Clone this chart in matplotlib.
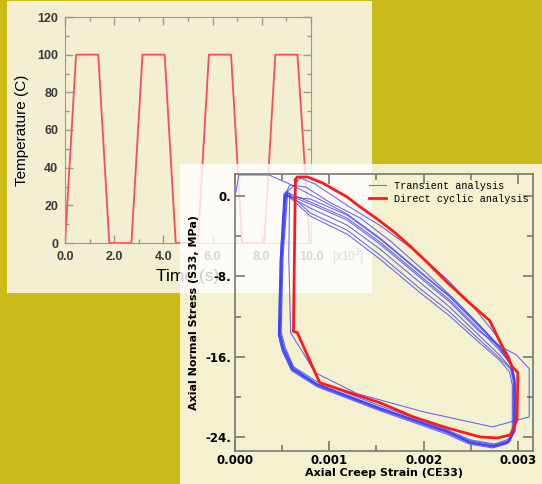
import matplotlib
matplotlib.use("Agg")
import matplotlib.pyplot as plt
from matplotlib.patches import Rectangle

# temperature history (time in x10^3 s)
time_pts = [0.0, 0.45, 1.35, 1.8, 2.7, 3.15, 4.05, 4.5, 5.4, 5.85, 6.75, 7.2, 8.1, 8.55, 9.45, 9.95]
temp_pts = [0, 100, 100, 0, 0, 100, 100, 0, 0, 100, 100, 0, 0, 100, 100, 0]
time_ticks = [0, 2, 4, 6, 8, 10]
time_labels = ["0.0", "2.0", "4.0", "6.0", "8.0", "10.0"]
temp_ticks = [0, 20, 40, 60, 80, 100, 120]

# direct cyclic loop
red_x = [0.00064, 0.00066, 0.00077, 0.00093, 0.00119, 0.00133, 0.00151, 0.00169, 0.00187, 0.00206,
         0.00224, 0.00248, 0.00270, 0.00294, 0.00300, 0.00299, 0.00292, 0.00278, 0.00260, 0.00225,
         0.00189, 0.00154, 0.00119, 0.00090, 0.00085, 0.00066, 0.00062, 0.00064]
red_y = [1.6, 1.9, 1.9, 1.3, -0.1, -1.1, -2.3, -3.6, -5.1, -6.8,
         -8.5, -10.6, -12.4, -17.0, -17.6, -22.3, -23.8, -24.1, -24.0, -23.1,
         -22.0, -20.6, -19.5, -18.6, -17.6, -13.6, -13.5, 1.6]

# transient analysis, one list pair per cycle
c1_x = [0.00001, 0.00004, 0.00036, 0.00058, 0.00085, 0.00119, 0.00154, 0.00196, 0.00227, 0.00259, 0.00280, 0.00292, 0.00297,
        0.00297, 0.00291, 0.00275, 0.00250, 0.00225, 0.00154, 0.00087, 0.00062, 0.00052, 0.00048, 0.00050, 0.00054]
c1_y = [0.4, 2.1, 2.1, 1.2, -0.1, -1.8, -4.2, -7.5, -9.9, -12.9, -14.9, -16.5, -18.2,
        -23.4, -24.4, -24.8, -24.4, -23.4, -21.1, -18.7, -17.1, -15.1, -13.6, -6.0, 0.4]
c2_x = [0.00054, 0.00080, 0.00119, 0.00154, 0.00196, 0.00227, 0.00259, 0.00280, 0.00293, 0.00296, 0.00296,
        0.00290, 0.00274, 0.00249, 0.00225, 0.00154, 0.00087, 0.00060, 0.00050, 0.00046, 0.00048, 0.00052]
c2_y = [0.4, -0.6, -2.2, -4.6, -7.9, -10.3, -13.3, -15.3, -16.8, -18.4, -23.5,
        -24.6, -25.0, -24.6, -23.6, -21.3, -18.9, -17.3, -15.3, -13.8, -6.2, 0.2]
c3_x = [0.00052, 0.00080, 0.00119, 0.00154, 0.00196, 0.00227, 0.00259, 0.00280, 0.00292, 0.00295, 0.00295,
        0.00289, 0.00273, 0.00249, 0.00225, 0.00154, 0.00087, 0.00061, 0.00051, 0.00047, 0.00049, 0.00053]
c3_y = [0.2, -1.2, -2.9, -5.3, -8.6, -11.0, -13.9, -15.8, -17.1, -18.5, -23.2,
        -24.4, -24.9, -24.5, -23.4, -21.1, -18.7, -17.2, -15.2, -13.7, -6.1, 0.1]
c4_x = [0.00053, 0.00058, 0.00075, 0.00100, 0.00133, 0.00165, 0.00200, 0.00235, 0.00265, 0.00285, 0.00294, 0.00297,
        0.00297, 0.00291, 0.00275, 0.00250, 0.00225, 0.00154, 0.00087, 0.00062, 0.00053, 0.00049, 0.00051, 0.00056]
c4_y = [0.1, 1.1, 0.9, -0.6, -2.2, -4.5, -7.4, -10.5, -13.4, -15.6, -17.2, -18.6,
        -23.0, -24.2, -24.7, -24.3, -23.3, -20.9, -18.5, -17.0, -15.0, -13.5, -6.0, 0.5]
c5_x = [0.00056, 0.00062, 0.00069, 0.00085, 0.00120, 0.00155, 0.00190, 0.00225, 0.00255, 0.00278, 0.00291, 0.00296,
        0.00296, 0.00290, 0.00274, 0.00250, 0.00225, 0.00154, 0.00087, 0.00061, 0.00051, 0.00047, 0.00049, 0.00053]
c5_y = [0.5, 1.0, 1.8, 1.2, -1.0, -3.0, -5.4, -8.3, -11.3, -14.0, -16.0, -17.9,
        -23.3, -24.5, -24.9, -24.5, -23.5, -21.2, -18.8, -17.2, -15.2, -13.7, -6.1, 0.3]
c6_x = [0.00053, 0.00080, 0.00119, 0.00154, 0.00196, 0.00227, 0.00259, 0.00280, 0.00291, 0.00294, 0.00294,
        0.00288, 0.00273, 0.00248, 0.00224, 0.00154, 0.00087, 0.00060, 0.00050, 0.00046, 0.00048, 0.00052]
c6_y = [0.3, -2.0, -3.8, -6.3, -9.6, -11.9, -14.6, -16.3, -17.5, -18.8, -23.6,
        -24.7, -25.1, -24.7, -23.7, -21.4, -19.0, -17.4, -15.4, -13.9, -6.3, 0.0]
c7_x = [0.00052, 0.00080, 0.00119, 0.00154, 0.00196, 0.00227, 0.00259, 0.00280, 0.00292, 0.00296, 0.00296,
        0.00290, 0.00274, 0.00249, 0.00225, 0.00154, 0.00087, 0.00061, 0.00051, 0.00047, 0.00049, 0.00054]
c7_y = [0.0, -0.3, -1.9, -4.3, -7.6, -10.0, -13.0, -15.1, -16.7, -18.4, -23.4,
        -24.5, -25.0, -24.6, -23.5, -21.2, -18.8, -17.3, -15.3, -13.8, -6.2, 0.2]
c8_x = [0.00054, 0.00080, 0.00119, 0.00154, 0.00196, 0.00227, 0.00259, 0.00282, 0.00298,
        0.00312, 0.00312, 0.00273, 0.00200, 0.00130, 0.00085, 0.00059, 0.00057, 0.00058]
c8_y = [0.2, -0.8, -2.4, -4.8, -8.1, -10.5, -13.5, -15.0, -15.8,
        -17.2, -22.0, -23.0, -21.5, -19.7, -17.6, -13.6, -6.0, 0.3]
c9_x = [0.00055, 0.00080, 0.00119, 0.00154, 0.00196, 0.00227, 0.00259, 0.00280, 0.00293, 0.00297, 0.00297,
        0.00291, 0.00275, 0.00250, 0.00225, 0.00154, 0.00087, 0.00062, 0.00052, 0.00048, 0.00050, 0.00055]
c9_y = [0.4, -1.7, -3.4, -5.9, -9.2, -11.5, -14.3, -16.1, -17.3, -18.6, -23.3,
        -24.5, -24.9, -24.6, -23.5, -21.2, -18.8, -17.2, -15.2, -13.7, -6.1, 0.3]

cycles = [(c1_x, c1_y), (c2_x, c2_y), (c3_x, c3_y), (c4_x, c4_y), (c5_x, c5_y),
          (c6_x, c6_y), (c7_x, c7_y), (c9_x, c9_y), (c8_x, c8_y)]

strain_ticks = [0.0, 0.001, 0.002, 0.003]
strain_labels = ["0.000", "0.001", "0.002", "0.003"]
stress_ticks = [0, -8, -16, -24]
stress_labels = ["0.", "-8.", "-16.", "-24."]

W, H = 542, 484
fig = plt.figure(figsize=(W / 100, H / 100), dpi=100, facecolor="#CBBB18")


def fx(px):
    return px / W


def fy(py):
    return 1 - py / H


# left panel background
fig.add_artist(Rectangle((fx(7), fy(293)), fx(372) - fx(7), fy(1) - fy(293),
                         transform=fig.transFigure, facecolor="#F2EFD3", edgecolor="none", zorder=0))

# ---- temperature chart
ax1 = fig.add_axes([fx(65), fy(243), fx(311) - fx(65), fy(17) - fy(243)])
ax1.set_zorder(1)
ax1.patch.set_visible(False)
ax1.plot(time_pts, temp_pts, color="#ff4a5a", lw=1.3)
ax1.set_xlim(0, 10)
ax1.set_ylim(0, 120)
sans = ["Liberation Sans", "DejaVu Sans"]
ax1.set_xticks(time_ticks, time_labels)
ax1.set_xticks([1, 3, 5, 7, 9], minor=True)
ax1.set_yticks(temp_ticks)
ax1.set_yticks([10, 30, 50, 70, 90, 110], minor=True)
ax1.tick_params(which="both", direction="in", top=True, right=True, color="#999999")
ax1.tick_params(which="major", length=6, width=1)
ax1.tick_params(which="minor", length=3, width=1)
ax1.tick_params(axis="y", pad=5)
ax1.tick_params(axis="x", pad=6)
for lab in ax1.get_xticklabels() + ax1.get_yticklabels():
    lab.set_family(sans)
    lab.set_fontsize(9)
    lab.set_fontweight("bold")
    lab.set_color("#3a3a3a")
for s in ax1.spines.values():
    s.set_color("#999999")
ax1.set_xlabel("Time (s)", family=sans, fontsize=12.5, labelpad=4)
ax1.set_ylabel("Temperature (C)", family=sans, fontsize=11, labelpad=6)
ax1.text(1.085, -0.065, "[x10$^3$]", transform=ax1.transAxes, family=sans, fontsize=8.5,
         color="#555555", ha="left", va="center")

# ---- right panel (semi transparent sheet)
fig.add_artist(Rectangle((fx(180), 0), 1 - fx(180), fy(164), transform=fig.transFigure,
                         facecolor="white", alpha=0.8, edgecolor="none", zorder=2))

ax2 = fig.add_axes([fx(235), fy(451), fx(533) - fx(235), fy(174) - fy(451)])
ax2.set_zorder(3)
ax2.patch.set_visible(False)
for i, (cx, cy) in enumerate(cycles):
    ax2.plot(cx, cy, color="#3d3dff", lw=0.75, alpha=0.8,
             label="Transient analysis" if i == 0 else None)
ax2.plot(red_x, red_y, color="#ff1a1a", lw=2.0, label="Direct cyclic analysis")
ax2.set_xlim(0, 0.00316)
ax2.set_ylim(-25.4, 2.2)
ax2.set_xticks(strain_ticks, strain_labels)
ax2.set_xticks([0.0005, 0.0015, 0.0025], minor=True)
ax2.set_yticks(stress_ticks, stress_labels)
ax2.set_yticks([-4, -12, -20], minor=True)
ax2.tick_params(which="both", direction="in", top=True, right=True, color="#777777")
ax2.tick_params(which="major", length=7, width=1.2)
ax2.tick_params(which="minor", length=4, width=1.2)
ax2.tick_params(axis="x", pad=2)
ax2.tick_params(axis="y", pad=3)
for lab in ax2.get_xticklabels() + ax2.get_yticklabels():
    lab.set_family("DejaVu Sans")
    lab.set_fontsize(8.5)
    lab.set_fontweight("bold")
for s in ax2.spines.values():
    s.set_color("#777777")
    s.set_linewidth(1.2)
ax2.set_xlabel("Axial Creep Strain (CE33)", family="DejaVu Sans", fontsize=8, fontweight="bold", labelpad=1)
ax2.set_ylabel("Axial Normal Stress (S33, MPa)", family="DejaVu Sans", fontsize=8, fontweight="bold", labelpad=4)

leg = ax2.legend(loc="upper left", bbox_to_anchor=(fx(369), fy(181)), bbox_transform=fig.transFigure,
                 frameon=False, borderpad=0, borderaxespad=0, handlelength=1.7, handletextpad=0.7,
                 labelspacing=0.25, prop={"family": "Liberation Mono", "size": 7.4})
leg.get_lines()[0].set_color("#6b6bff")
leg.get_lines()[0].set_alpha(1)

fig.savefig("out.png", dpi=100, facecolor=fig.get_facecolor())
